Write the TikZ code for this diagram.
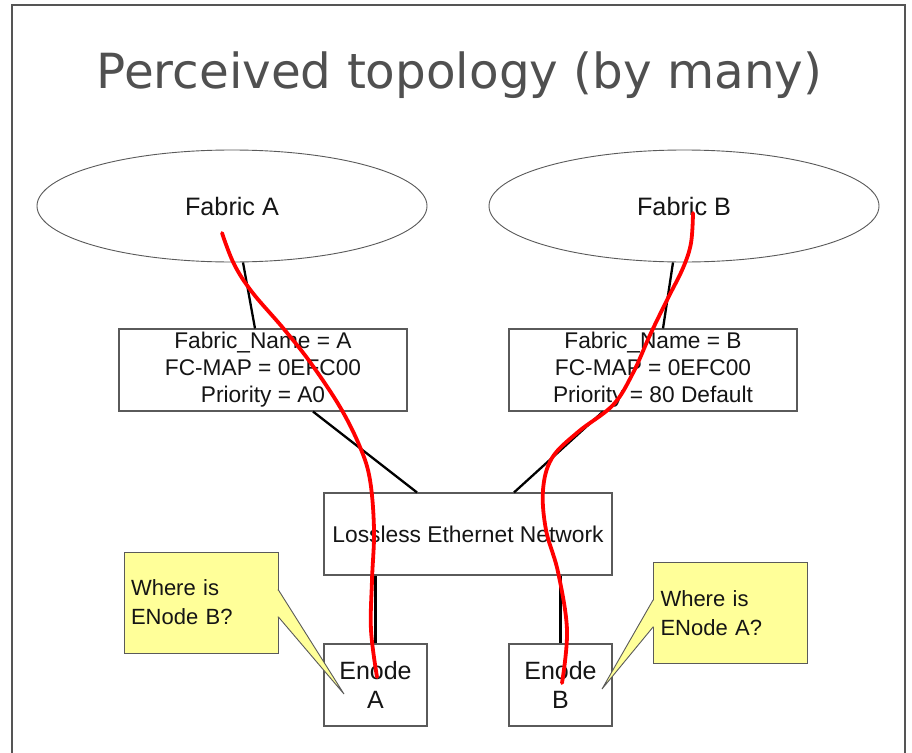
\documentclass[tikz,border=0pt]{standalone}
\usepackage{fontspec}
\setmainfont{Liberation Sans}
\newfontfamily\titlefont{DejaVu Sans}
\usetikzlibrary{shapes.geometric,calc}
\definecolor{framegray}{HTML}{555555}
\definecolor{titlegray}{HTML}{505050}
\definecolor{calloutyellow}{HTML}{FFFF99}
\definecolor{boxgray}{HTML}{5A5A5A}
\definecolor{ink}{HTML}{151515}
\begin{document}
\begin{tikzpicture}[x=1pt,y=-1pt,
  fabric/.style={ellipse, draw=boxgray, line width=0.9pt, minimum width=390pt, minimum height=112pt, inner sep=0pt, text=ink, font=\fontsize{25.2}{29}\selectfont},
  infobox/.style={rectangle, draw=boxgray, line width=1.1pt, minimum width=288pt, minimum height=82pt, inner sep=0pt, align=center, text=ink, font=\fontsize{22.7}{27}\selectfont},
  enodebox/.style={rectangle, draw=boxgray, line width=1.1pt, minimum width=103pt, minimum height=82pt, inner sep=0pt, align=center, text=ink, font=\fontsize{25}{29.5}\selectfont},
  calloutbox/.style={rectangle, draw=boxgray, fill=calloutyellow, line width=0.9pt, text width=140pt, minimum height=101pt, inner sep=7pt, align=left, text=ink, font=\fontsize{22}{29}\selectfont},
  pointer/.style={draw=boxgray, fill=calloutyellow, line width=0.9pt, line join=miter},
  link/.style={draw=black, line width=2.3pt},
  path/.style={draw=red, line width=3.8pt, line cap=round}
]
\useasboundingbox (0,0) rectangle (912,752);
\fill[white] (0,0) rectangle (912,752);
% outer frame
\draw[framegray, line width=2pt] (12,753) -- (12,5) -- (905,5) -- (905,753);
% title
\node[anchor=base, text=titlegray, font=\titlefont\fontsize{48.4}{58}\selectfont] (title) at (459.5,88) {Perceived topology (by many)};
% fabrics
\node[fabric] (fa) at (232,206) {Fabric A};
\node[fabric] (fb) at (684,206) {Fabric B};
% info boxes
\node[infobox] (ba) at (263,370) {Fabric\_Name = A\\FC-MAP = 0EFC00\\Priority = A0};
\node[infobox] (bb) at (653,370) {Fabric\_Name = B\\FC-MAP = 0EFC00\\Priority = 80 Default};
% network
\node[infobox, font=\fontsize{22.8}{27}\selectfont] (len) at (468,534) {Lossless Ethernet Network};
% enodes
\node[enodebox] (ea) at (375.5,685) {Enode\\A};
\node[enodebox] (eb) at (560.5,685) {Enode\\B};
% black links
\draw[link] ($(fa.south)+(11,0)$) -- ($(ba.north)+(-8,0)$);
\draw[link] ($(fb.south)+(-11,0)$) -- ($(bb.north)+(10,0)$);
\draw[link] ($(ba.south)+(50,0)$) -- ($(len.north)+(-51,0)$);
\draw[link] ($(bb.south)+(-50,0)$) -- ($(len.north)+(46,0)$);
\draw[link] (ea.north) -- (ea.north |- len.south);
\draw[link] (eb.north) -- (eb.north |- len.south);
% callouts
\node[calloutbox] (ca) at (201,602.5) {Where is\\ENode B?};
\coordinate (tipA) at (344,694);
\draw[pointer] ($(ca.east)+(-0.8,-12.5)$) -- ($(ca.east)+(0,-12.5)$) -- (tipA) -- ($(ca.east)+(0,14.5)$) -- ($(ca.east)+(-0.8,14.5)$);
\node[calloutbox] (cb) at (730.5,613) {Where is\\ENode A?};
\coordinate (tipB) at (602,689);
\draw[pointer] ($(cb.west)+(0.8,-13)$) -- ($(cb.west)+(0,-13)$) -- (tipB) -- ($(cb.west)+(0,14)$) -- ($(cb.west)+(0.8,14)$);
% red paths
\coordinate (ra0) at (222,233);
\coordinate (ra1) at (377,677);
\draw[path] plot[smooth, tension=0.6] coordinates {(222,233) (234,264) (252,292) (283,328) (310,362) (340,407) (360,447) (370,480) (374,530) (372,580) (371,630) (377,677)};
\coordinate (rb0) at (693,213);
\coordinate (rb1) at (562,683);
\draw[path] plot[smooth, tension=0.6] coordinates {(693,213) (691,243) (683,268) (667,300) (650,335) (633,373) (613,405) (578,432) (552,458) (543,490) (546,530) (558,572) (567,630) (562,683)};
\end{tikzpicture}
\end{document}
